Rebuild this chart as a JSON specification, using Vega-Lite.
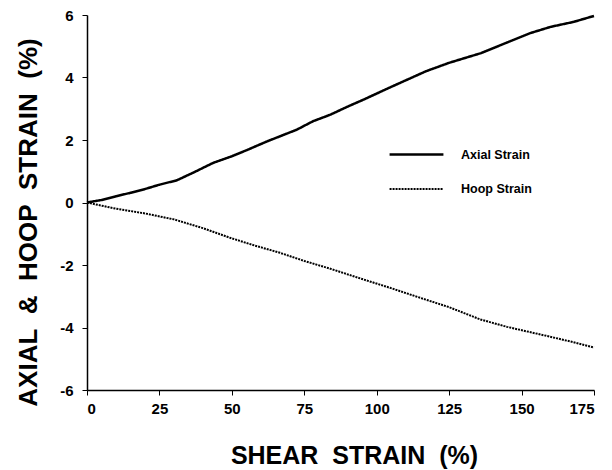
{
  "$schema": "https://vega.github.io/schema/vega-lite/v6.json",
  "autosize": "none",
  "padding": {"left": 87, "top": 15, "right": 18, "bottom": 80},
  "width": 507,
  "height": 375,
  "background": "white",
  "config": {
    "view": {"stroke": null},
    "font": "Liberation Sans",
    "axis": {"grid": false, "domainColor": "black", "tickColor": "black", "labelColor": "black", "titleColor": "black", "labelFont": "Liberation Sans", "titleFont": "Liberation Sans", "labelFontWeight": "bold", "titleFontWeight": "bold", "labelFontSize": 15, "titleFontSize": 25, "tickSize": 5, "domainWidth": 1.5}
  },
  "data": {"values": [
    {"shear": 0, "strain": 0, "series": "Axial Strain"},
    {"shear": 5, "strain": 0.08, "series": "Axial Strain"},
    {"shear": 10, "strain": 0.2, "series": "Axial Strain"},
    {"shear": 15, "strain": 0.31, "series": "Axial Strain"},
    {"shear": 20, "strain": 0.43, "series": "Axial Strain"},
    {"shear": 25, "strain": 0.57, "series": "Axial Strain"},
    {"shear": 31, "strain": 0.71, "series": "Axial Strain"},
    {"shear": 37, "strain": 0.97, "series": "Axial Strain"},
    {"shear": 43.6, "strain": 1.27, "series": "Axial Strain"},
    {"shear": 50, "strain": 1.48, "series": "Axial Strain"},
    {"shear": 55, "strain": 1.67, "series": "Axial Strain"},
    {"shear": 62, "strain": 1.95, "series": "Axial Strain"},
    {"shear": 72.4, "strain": 2.33, "series": "Axial Strain"},
    {"shear": 78, "strain": 2.6, "series": "Axial Strain"},
    {"shear": 84, "strain": 2.81, "series": "Axial Strain"},
    {"shear": 90, "strain": 3.07, "series": "Axial Strain"},
    {"shear": 95.4, "strain": 3.29, "series": "Axial Strain"},
    {"shear": 105, "strain": 3.7, "series": "Axial Strain"},
    {"shear": 117, "strain": 4.2, "series": "Axial Strain"},
    {"shear": 125, "strain": 4.47, "series": "Axial Strain"},
    {"shear": 136, "strain": 4.78, "series": "Axial Strain"},
    {"shear": 145, "strain": 5.12, "series": "Axial Strain"},
    {"shear": 153, "strain": 5.42, "series": "Axial Strain"},
    {"shear": 160, "strain": 5.62, "series": "Axial Strain"},
    {"shear": 168, "strain": 5.78, "series": "Axial Strain"},
    {"shear": 175, "strain": 5.97, "series": "Axial Strain"},
    {"shear": 0, "strain": 0, "series": "Hoop Strain"},
    {"shear": 9, "strain": -0.18, "series": "Hoop Strain"},
    {"shear": 20, "strain": -0.35, "series": "Hoop Strain"},
    {"shear": 30, "strain": -0.54, "series": "Hoop Strain"},
    {"shear": 40, "strain": -0.82, "series": "Hoop Strain"},
    {"shear": 49.4, "strain": -1.13, "series": "Hoop Strain"},
    {"shear": 58, "strain": -1.38, "series": "Hoop Strain"},
    {"shear": 66.6, "strain": -1.61, "series": "Hoop Strain"},
    {"shear": 75, "strain": -1.87, "series": "Hoop Strain"},
    {"shear": 84, "strain": -2.12, "series": "Hoop Strain"},
    {"shear": 95, "strain": -2.45, "series": "Hoop Strain"},
    {"shear": 104.6, "strain": -2.73, "series": "Hoop Strain"},
    {"shear": 115, "strain": -3.05, "series": "Hoop Strain"},
    {"shear": 125, "strain": -3.35, "series": "Hoop Strain"},
    {"shear": 135.7, "strain": -3.74, "series": "Hoop Strain"},
    {"shear": 145, "strain": -3.98, "series": "Hoop Strain"},
    {"shear": 158.7, "strain": -4.27, "series": "Hoop Strain"},
    {"shear": 167, "strain": -4.45, "series": "Hoop Strain"},
    {"shear": 175, "strain": -4.64, "series": "Hoop Strain"}
  ]},
  "mark": {"type": "line", "color": "black"},
  "encoding": {
    "x": {"field": "shear", "type": "quantitative", "scale": {"domain": [0, 175], "nice": false}, "axis": {"values": [0, 25, 50, 75, 100, 125, 150, 175], "title": "SHEAR\u00a0\u00a0STRAIN\u00a0\u00a0(%)", "titleX": 267, "titleY": 65, "titleAlign": "center", "titleBaseline": "middle", "labelPadding": 6}},
    "y": {"field": "strain", "type": "quantitative", "scale": {"domain": [-6, 6], "nice": false}, "axis": {"values": [-6, -4, -2, 0, 2, 4, 6], "labelExpr": "'' + datum.value", "title": "AXIAL\u00a0\u00a0&\u00a0\u00a0HOOP\u00a0\u00a0STRAIN\u00a0\u00a0(%)", "titleFontSize": 26, "titleX": -59, "titleY": 207, "titleAlign": "center", "titleBaseline": "middle", "labelPadding": 9}},
    "strokeDash": {"field": "series", "type": "nominal", "scale": {"domain": ["Axial Strain", "Hoop Strain"], "range": [[1, 0], [2, 1]]},
      "legend": {"title": null, "orient": "none", "legendX": 301, "legendY": 111, "symbolType": "stroke", "symbolSize": 2900, "symbolStrokeColor": "black", "symbolStrokeWidth": 2.5, "labelFontSize": 12.5, "labelFontWeight": "bold", "labelColor": "black", "labelFont": "Liberation Sans", "rowPadding": -23, "labelOffset": 16}},
    "strokeWidth": {"field": "series", "type": "nominal", "scale": {"domain": ["Axial Strain", "Hoop Strain"], "range": [2.5, 2]}, "legend": null}
  }
}
